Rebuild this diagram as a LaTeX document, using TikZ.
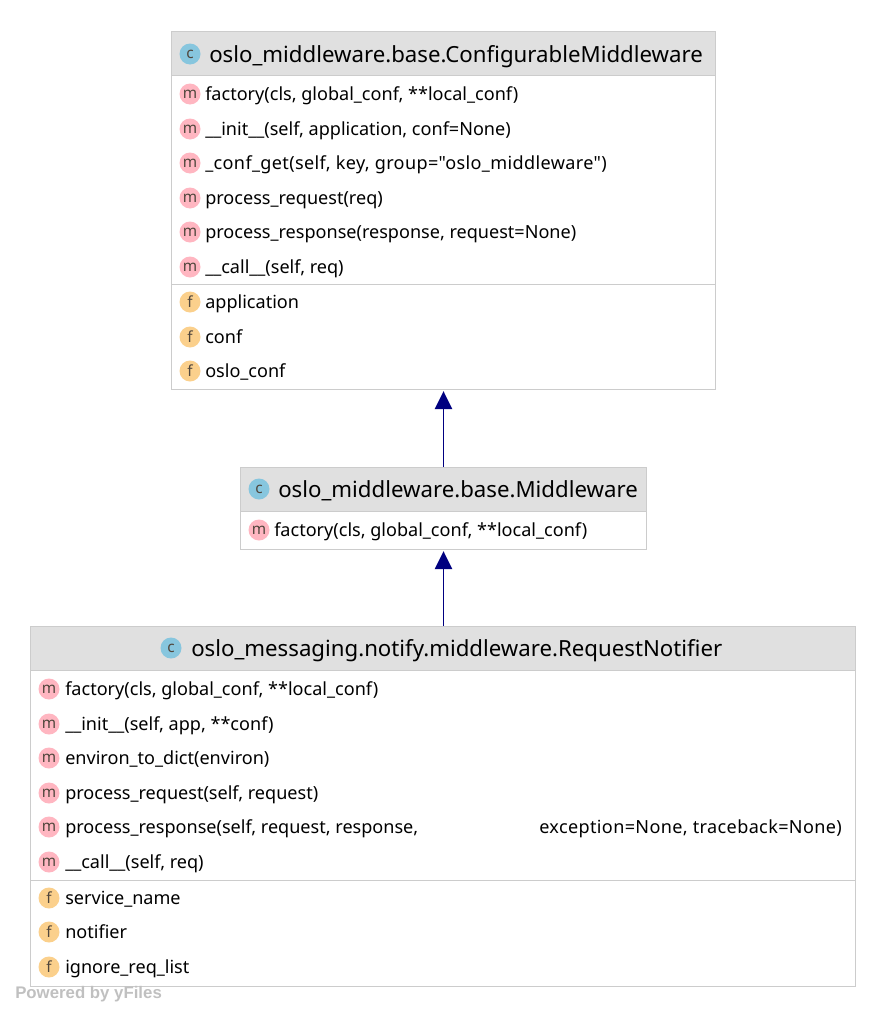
\documentclass[tikz,border=0pt]{standalone}
\usepackage{fontspec}
\setmainfont{Noto Sans}[Ligatures=TeXOff]
\newfontfamily\markfont{Liberation Sans}
\usetikzlibrary{arrows.meta}
\definecolor{headgray}{HTML}{E0E0E0}
\definecolor{boxline}{HTML}{CCCCCC}
\definecolor{methodpink}{HTML}{FFB6C1}
\definecolor{fieldorange}{HTML}{FBD08C}
\definecolor{classblue}{HTML}{87C6DE}
\definecolor{icontext}{HTML}{50463C}
\definecolor{arrownavy}{HTML}{000080}
\definecolor{markgray}{HTML}{C0C0C0}
\newcommand{\widertext}[1]{{\addfontfeature{LetterSpace=2}#1}}
\tikzset{
  classbox/.style={draw=boxline,line width=0.75pt,fill=white,anchor=north west,inner sep=0pt},
  iconbase/.style={circle,inner sep=0pt,minimum size=15.75pt,text=icontext,font=\fontsize{11.5}{11}\selectfont},
  methodicon/.style={iconbase,fill=methodpink},
  fieldicon/.style={iconbase,fill=fieldorange},
  classicon/.style={iconbase,fill=classblue},
  membertext/.style={anchor=base west,inner sep=0pt,font=\fontsize{13.55}{16}\selectfont},
  titletext/.style={anchor=base west,inner sep=0pt,font=\fontsize{16.67}{20}\selectfont},
  extends/.style={draw=arrownavy,line width=1.1pt,-{Triangle[length=13.5pt,width=13pt]},shorten >=0.9pt}
}
\begin{document}
\begin{tikzpicture}[x=0.75pt,y=-0.75pt]
\useasboundingbox (0,0) rectangle (886,1017);

% Class boxes
\node[classbox,minimum width=408pt,minimum height=268.5pt] (configurable) at (171,31) {};
\node[classbox,minimum width=304.5pt,minimum height=61.5pt] (middleware) at (240,467) {};
\node[classbox,minimum width=618.75pt,minimum height=270pt] (notifier) at (30,626) {};

% Headers and separators
\filldraw[fill=headgray,draw=boxline,line width=0.75pt] (171,31) rectangle (715,75);
\filldraw[fill=headgray,draw=boxline,line width=0.75pt] (240,467) rectangle (646,511);
\filldraw[fill=headgray,draw=boxline,line width=0.75pt] (30,626) rectangle (855,670);
\draw[boxline,line width=0.75pt] (171,284) -- (715,284);
\draw[boxline,line width=0.75pt] (30,880) -- (855,880);

% Titles
\node[classicon] (iconA) at (190,54) {c};
\node[titletext] (titleA) at (209,62) {oslo\_middleware.base.ConfigurableMiddleware};
\node[classicon] (iconB) at (259,489) {c};
\node[titletext] (titleB) at (278,497) {oslo\_middleware.base.Middleware};
\node[classicon] (iconC) at (171,648) {c};
\node[titletext] (titleC) at (191,656) {oslo\_messaging.notify.middleware.RequestNotifier};

% Methods of the three classes
\foreach \y/\t [count=\i] in {94/{factory(cls, global\_conf, **local\_conf)},
    129/{\_\_init\_\_(self, application, conf=None)},
    163/{\widertext{\_conf\_get(self, key, group="oslo\_middleware")}},
    198/{process\_request(req)},
    232/{process\_response(response, request=None)},
    267/{\_\_call\_\_(self, req)}}{
  \node[methodicon] (mA\i) at (190,\y) {m};
  \node[membertext] (tA\i) at (205,\y+6) {\t};
}
\node[methodicon] (mB1) at (259,530) {m};
\node[membertext] (tB1) at (274,536) {factory(cls, global\_conf, **local\_conf)};
\foreach \y/\t [count=\i] in {689/{factory(cls, global\_conf, **local\_conf)},
    724/{\_\_init\_\_(self, app, **conf)},
    758/{environ\_to\_dict(environ)},
    793/{process\_request(self, request)},
    827/{\makebox[355.5pt][l]{process\_response(self, request, response,}\widertext{exception=None, traceback=None)}},
    862/{\_\_call\_\_(self, req)}}{
  \node[methodicon] (mC\i) at (49,\y) {m};
  \node[membertext] (tC\i) at (65,\y+6) {\t};
}

% Fields
\foreach \y/\t [count=\i] in {302/application,337/conf,371/oslo\_conf}{
  \node[fieldicon] (fA\i) at (190,\y) {f};
  \node[membertext] (sA\i) at (205,\y+6) {\t};
}
\foreach \y/\t [count=\i] in {898/service\_name,932/notifier,967/ignore\_req\_list}{
  \node[fieldicon] (fC\i) at (49,\y) {f};
  \node[membertext] (sC\i) at (65,\y+6) {\t};
}

% Inheritance arrows
\draw[extends] (middleware.north) -- (configurable.south);
\draw[extends] (notifier.north -| middleware.north) -- (middleware.south);

\node[anchor=base west,inner sep=0pt,text=markgray,font=\markfont\bfseries\fontsize{12.6}{14}\selectfont] (powered) at (15,998) {Powered by yFiles};
\end{tikzpicture}
\end{document}
